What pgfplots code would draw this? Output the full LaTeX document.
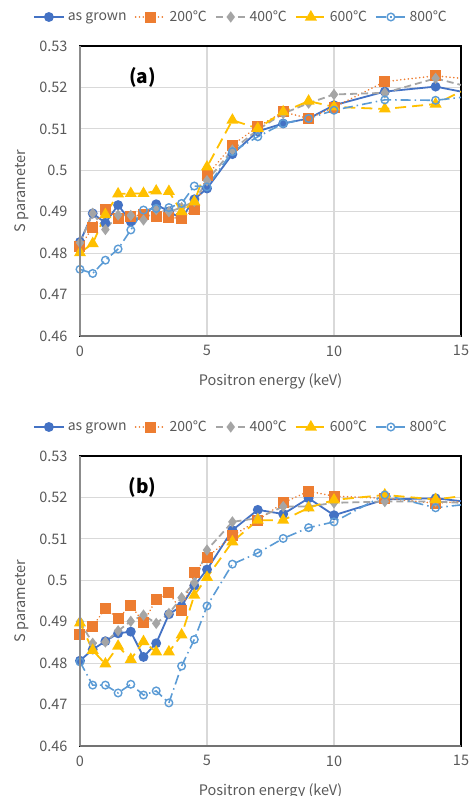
\documentclass[border=0pt]{standalone}
\usepackage{fontspec}
\setmainfont{Noto Sans CJK JP}
\usepackage{pgfplots}
\pgfplotsset{compat=1.18}
\usepackage{pgfplotstable}

\definecolor{cAG}{HTML}{4472C4}
\definecolor{cTwo}{HTML}{ED7D31}
\definecolor{cFour}{HTML}{A5A5A5}
\definecolor{cSix}{HTML}{FFC000}
\definecolor{cEight}{HTML}{5B9BD5}
\definecolor{txt}{HTML}{595959}
\definecolor{gridc}{HTML}{D9D9D9}

% panel (a)
\pgfplotstableread{
E     ag      t200    t400    t600    t800
0     0.4827  0.4815  0.4825  0.4801  0.4761
0.5   0.4896  0.4862  0.4896  0.4823  0.4751
1     0.4873  0.4905  0.4857  0.4893  0.4783
1.5   0.4916  0.4884  0.4892  0.4943  0.4810
2     0.4876  0.4888  0.4891  0.4944  0.4856
2.5   0.4890  0.4894  0.4880  0.4944  0.4904
3     0.4918  0.4888  0.4905  0.4950  0.4908
3.5   0.4900  0.4886  0.4900  0.4949  0.4910
4     0.4884  0.4884  0.4910  0.4900  0.4920
4.5   0.4930  0.4905  0.4925  0.4924  0.4962
5     0.4956  0.4987  0.4975  0.5008  0.4960
6     0.5039  0.5061  0.5049  0.5121  0.5045
7     0.5094  0.5105  0.5098  0.5101  0.5081
8     0.5113  0.5141  0.5137  0.5141  0.5113
9     0.5125  0.5125  0.5162  0.5167  0.5125
10    0.5157  0.5152  0.5183  0.5153  0.5145
12    0.5190  0.5214  0.5187  0.5148  0.5170
14    0.5202  0.5228  0.5222  0.5160  0.5169
15    0.5190  0.5222  0.5206  0.5190  0.5176
}\dataA

% panel (b)
\pgfplotstableread{
E     ag      t200    t400    t600    t800
0     0.4806  0.4870  0.4900  0.4897  0.4803
0.5   0.4833  0.4889  0.4848  0.4831  0.4747
1     0.4853  0.4932  0.4851  0.4798  0.4747
1.5   0.4872  0.4908  0.4878  0.4841  0.4728
2     0.4876  0.4940  0.4901  0.4809  0.4749
2.5   0.4815  0.4898  0.4916  0.4852  0.4723
3     0.4848  0.4954  0.4896  0.4827  0.4733
3.5   0.4918  0.4970  0.4920  0.4827  0.4704
4     0.4938  0.4926  0.4958  0.4868  0.4793
4.5   0.4987  0.5018  0.4994  0.4964  0.4857
5     0.5026  0.5055  0.5073  0.5007  0.4938
6     0.5121  0.5107  0.5141  0.5093  0.5039
7     0.5170  0.5145  0.5150  0.5145  0.5066
8     0.5160  0.5187  0.5178  0.5145  0.5101
9     0.5198  0.5215  0.5178  0.5175  0.5127
10    0.5157  0.5203  0.5187  0.5194  0.5141
12    0.5195  0.5198  0.5190  0.5206  0.5206
14    0.5198  0.5186  0.5190  0.5195  0.5175
15    0.5191  0.5190  0.5187  0.5203  0.5182
}\dataB

\pgfplotsset{
  panel/.style={
    scale only axis, width=381pt, height=290pt, anchor=south west,
    xmin=0, xmax=15, ymin=0.46, ymax=0.53,
    xtick={0,5,10,15},
    ytick={0.46,0.47,0.48,0.49,0.50,0.51,0.52,0.53},
    yticklabels={0.46,0.47,0.48,0.49,0.5,0.51,0.52,0.53},
    major tick length=0pt,
    grid=major, major grid style={draw=gridc, line width=1.1pt},
    axis line style={black, line width=1.5pt},
    /pgf/number format/assume math mode=true,
    tick label style={font=\fontsize{14.5}{17}\selectfont, text=txt},
    yticklabel style={xshift=-9pt},
    xticklabel style={yshift=-6pt},
    xlabel={Positron energy (keV)}, ylabel={S parameter},
    label style={font=\fontsize{14.5}{17}\selectfont, text=txt},
    xlabel style={at={(axis description cs:0.5,-0.155)}, anchor=center},
    ylabel style={at={(axis description cs:-0.153,0.5)}, anchor=center},
    legend columns=5,
    legend style={at={(axis description cs:0.4226,1.1)}, anchor=center,
      draw=none, fill=none, font=\fontsize{14}{16}\selectfont, text=txt,
      /tikz/every odd column/.append style={column sep=1pt},
      /tikz/every even column/.append style={column sep=6pt}},
    legend image code/.code={\draw[#1, mark indices={2}]
      plot coordinates {(0pt,0pt) (15pt,0pt) (30pt,0pt)};},
    after end axis/.code={
      \draw[color=gray!90, line width=2.5pt] (rel axis cs:0,1) -- (rel axis cs:0,0);
      \draw[color=gray!90!black, line width=2pt] (rel axis cs:0,0) -- (rel axis cs:1,0);
    },
  },
  sAG/.style={cAG, line width=1.8pt, mark=*, mark size=4pt,
    mark options={solid, fill=cAG}, mark indices={1,...,18}},
  sTwo/.style={cTwo, line width=1.8pt, line cap=round, dash pattern=on 0.01pt off 3.8pt,
    mark=square*, mark size=4.6pt, mark options={solid, fill=cTwo, line cap=butt}, mark indices={1,...,18}},
  sFour/.style={cFour, line width=1.8pt, dash pattern=on 7pt off 4pt,
    mark=diamond*, mark size=4.2pt, mark options={solid, fill=cFour}, mark indices={1,...,18}},
  sSix/.style={cSix, line width=1.8pt, dash pattern=on 11pt off 6pt,
    mark=triangle*, mark size=5.2pt, mark options={solid, fill=cSix}, mark indices={1,...,18}},
  sEight/.style={cEight, line width=1.6pt, dash pattern=on 10pt off 4pt on 1.5pt off 4pt,
    mark=o, mark size=3.8pt, mark options={solid, fill=white, line width=1.4pt}, mark indices={1,...,18}},
}

\begin{document}
\begin{tikzpicture}
\useasboundingbox (0pt,0pt) rectangle (472pt,796pt);

\begin{axis}[panel, at={(80pt,460pt)}]
\addplot[sAG] table[x=E, y=ag] {\dataA};
\addlegendentry{as grown}
\addplot[sTwo] table[x=E, y=t200] {\dataA};
\addlegendentry{200℃}
\addplot[sFour] table[x=E, y=t400] {\dataA};
\addlegendentry{400℃}
\addplot[sSix] table[x=E, y=t600] {\dataA};
\addlegendentry{600℃}
\addplot[sEight] table[x=E, y=t800] {\dataA};
\addlegendentry{800℃}
\node[font=\fontsize{19}{22}\selectfont\bfseries, text=black] at (rel axis cs:0.164,0.893) {(a)};
\end{axis}

\begin{axis}[panel, at={(80pt,50pt)}]
\addplot[sAG] table[x=E, y=ag] {\dataB};
\addlegendentry{as grown}
\addplot[sTwo] table[x=E, y=t200] {\dataB};
\addlegendentry{200℃}
\addplot[sFour] table[x=E, y=t400] {\dataB};
\addlegendentry{400℃}
\addplot[sSix] table[x=E, y=t600] {\dataB};
\addlegendentry{600℃}
\addplot[sEight] table[x=E, y=t800] {\dataB};
\addlegendentry{800℃}
\node[font=\fontsize{19}{22}\selectfont\bfseries, text=black] at (rel axis cs:0.164,0.893) {(b)};
\end{axis}
\end{tikzpicture}
\end{document}
